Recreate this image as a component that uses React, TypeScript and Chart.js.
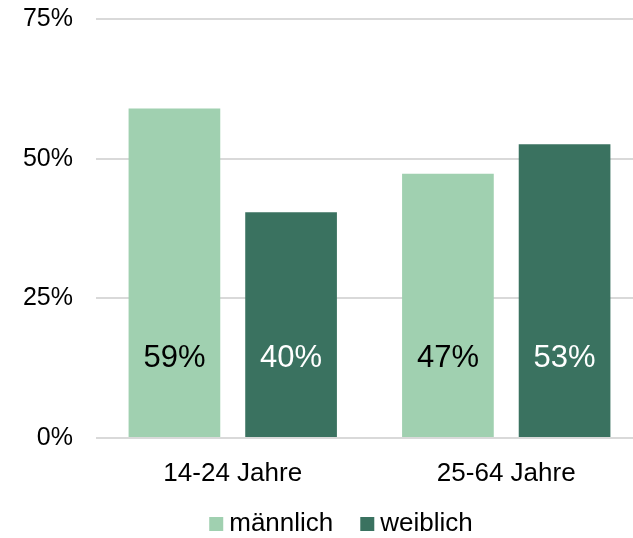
import React, { useEffect, useRef } from "react";
import { Chart, registerables } from "chart.js";

Chart.register(...registerables);

const categories = ["14-24 Jahre", "25-64 Jahre"];
const maleValues = [59.0, 47.3];
const femaleValues = [40.4, 52.6];
const seriesNames = ["männlich", "weiblich"];
const yTicks = [0, 25, 50, 75];

const LIGHT = "#a0d0b0";
const DARK = "#3a7260";
const FONT = "'Liberation Sans', Arial, sans-serif";

const valueLabelsPlugin = {
  id: "valueLabels",
  afterDatasetsDraw(chart: any, _args: any, opts: any) {
    const ctx = chart.ctx;
    ctx.save();
    ctx.font = `${opts.size}px ${FONT}`;
    ctx.textAlign = "center";
    ctx.textBaseline = "middle";
    chart.data.datasets.forEach((ds: any, i: number) => {
      const meta = chart.getDatasetMeta(i);
      meta.data.forEach((bar: any, j: number) => {
        const v = ds.data[j];
        ctx.fillStyle = ds.labelColor;
        ctx.fillText(Math.round(v) + "%", bar.x, bar.base - opts.offset);
      });
    });
    ctx.restore();
  },
};

const customLegendPlugin = {
  id: "customLegend",
  afterDraw(chart: any, _args: any, opts: any) {
    const ctx = chart.ctx;
    ctx.save();
    ctx.font = `${opts.size}px ${FONT}`;
    ctx.textBaseline = "middle";
    const items = chart.data.datasets.map((ds: any) => ({
      text: ds.label,
      color: ds.backgroundColor,
      w: ctx.measureText(ds.label).width,
    }));
    const total =
      items.reduce((s: number, it: any) => s + opts.box + opts.gap + it.w, 0) +
      opts.spacing * (items.length - 1);
    let x = opts.centerX - total / 2;
    items.forEach((it: any) => {
      ctx.fillStyle = it.color;
      ctx.fillRect(x, opts.y - opts.box / 2, opts.box, opts.box);
      x += opts.box + opts.gap;
      ctx.fillStyle = "#000";
      ctx.textAlign = "left";
      ctx.fillText(it.text, x, opts.y);
      x += it.w + opts.spacing;
    });
    ctx.restore();
  },
};

export default function App() {
  const ref = useRef<HTMLCanvasElement>(null);

  useEffect(() => {
    if (!ref.current) return;
    const chart = new Chart(ref.current, {
      type: "bar",
      data: {
        labels: categories,
        datasets: [
          {
            label: seriesNames[0],
            data: maleValues,
            backgroundColor: LIGHT,
            labelColor: "#000",
            categoryPercentage: 0.853,
            barPercentage: 0.786,
          } as any,
          {
            label: seriesNames[1],
            data: femaleValues,
            backgroundColor: DARK,
            labelColor: "#fff",
            categoryPercentage: 0.853,
            barPercentage: 0.786,
          } as any,
        ],
      },
      plugins: [valueLabelsPlugin, customLegendPlugin],
      options: {
        animation: false,
        responsive: false,
        devicePixelRatio: 1,
        layout: { padding: { top: 19, right: 7, left: 0, bottom: 0 } },
        plugins: {
          legend: { display: false },
          tooltip: { enabled: false },
          valueLabels: { size: 31, offset: 79 },
          customLegend: { size: 26, box: 14, gap: 6, spacing: 27, centerX: 341, y: 524 },
        } as any,
        scales: {
          x: {
            grid: { display: false },
            border: { display: false },
            ticks: {
              color: "#000",
              font: { family: FONT, size: 26 },
              padding: 12,
            },
            afterFit(scale: any) {
              scale.height = 100;
              scale.paddingLeft = 0;
              scale.paddingRight = 0;
            },
          },
          y: {
            min: 0,
            max: 75,
            afterBuildTicks(scale: any) {
              scale.ticks = yTicks.map((v) => ({ value: v }));
            },
            grid: { color: "#d9d9d9", lineWidth: 2, drawTicks: false },
            border: { display: false },
            ticks: {
              color: "#000",
              font: { family: FONT, size: 25 },
              padding: 23,
              callback: (v: any) => v + "%",
            },
            afterFit(scale: any) {
              scale.width = 96;
              scale.paddingTop = 0;
              scale.paddingBottom = 0;
            },
          },
        },
      },
    });
    return () => chart.destroy();
  }, []);

  return (
    <div
      style={{
        position: "absolute",
        left: 0,
        top: 0,
        width: 633,
        height: 538,
        overflow: "hidden",
        background: "#fff",
      }}
    >
      <canvas ref={ref} width={650} height={538} style={{ width: 650, height: 538 }} />
    </div>
  );
}
